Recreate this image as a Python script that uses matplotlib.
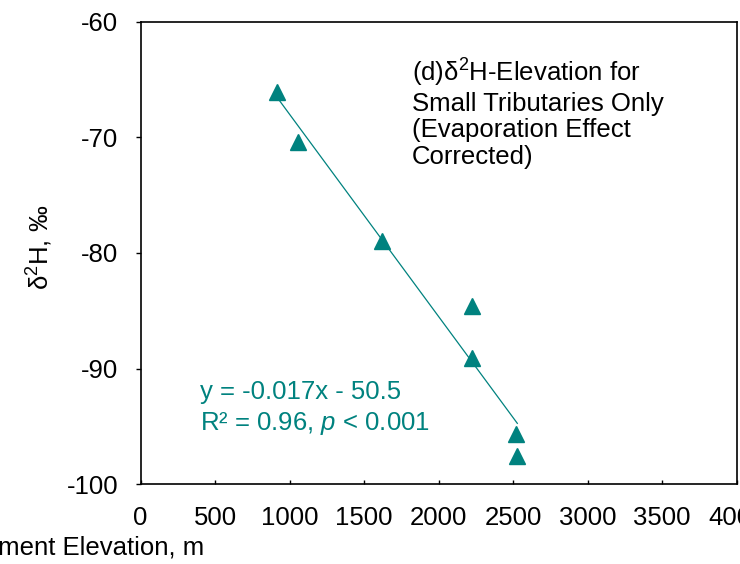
import matplotlib.pyplot as plt
import numpy as np

# data
ELEVATION = [913, 1058, 1620, 2221, 2225, 2519, 2528]
D2H = [-66.1, -70.4, -79.0, -84.6, -89.1, -95.7, -97.6]
X_TICKS = [0, 500, 1000, 1500, 2000, 2500, 3000, 3500, 4000]
Y_TICKS = [-100, -90, -80, -70, -60]

TEAL = "#00827F"

plt.rcParams["font.family"] = ["Liberation Sans", "DejaVu Sans"]
plt.rcParams["axes.unicode_minus"] = False
plt.rcParams["mathtext.fontset"] = "custom"
plt.rcParams["mathtext.rm"] = "Liberation Sans"
plt.rcParams["mathtext.it"] = "Liberation Sans:italic"


def main():
    fig = plt.figure(figsize=(7.4, 5.64), dpi=100)
    ax = fig.add_axes([0.19, 0.1418, 0.8055, 0.8193])

    ax.plot(ELEVATION, D2H, linestyle="none", marker="^", markersize=12,
            color=TEAL, zorder=3)

    # linear trend line over the data range
    slope, intercept = np.polyfit(ELEVATION, D2H, 1)
    xs = np.array([min(ELEVATION), max(ELEVATION)])
    ax.plot(xs, slope * xs + intercept, color=TEAL, linewidth=0.9, zorder=2)

    ax.set_xlim(0, 4000)
    ax.set_ylim(-100, -60)
    ax.set_xticks(X_TICKS)
    ax.set_yticks(Y_TICKS)
    ax.tick_params(axis="x", direction="in", length=3, width=1, pad=16,
                   labelsize=18.5)
    ax.tick_params(axis="y", direction="out", length=3.6, width=1, pad=12.5,
                   labelsize=18.5)
    for sp in ax.spines.values():
        sp.set_linewidth(1.2)

    ax.text(0.455, 0.925,
            "(d)δ$^{2}$H-Elevation for\nSmall Tributaries Only\n"
            "(Evaporation Effect\nCorrected)",
            transform=ax.transAxes, fontsize=18.5, va="top", ha="left",
            linespacing=1.15)
    ax.text(0.1, 0.163, "y = -0.017x - 50.5\nR² = 0.96, $p$ < 0.001",
            transform=ax.transAxes, fontsize=18.5, va="center", ha="left",
            color=TEAL, linespacing=1.3)

    fig.text(204 / 740, 1 - 548 / 564, "Catchment Elevation, m",
             fontsize=18.5, ha="right", va="center")
    fig.text(40 / 740, 1 - 247 / 564, "δ$^{2}$H, ‰", fontsize=18.5,
             rotation=90, ha="center", va="center")

    fig.savefig("out.png", dpi=100)


if __name__ == "__main__":
    main()
